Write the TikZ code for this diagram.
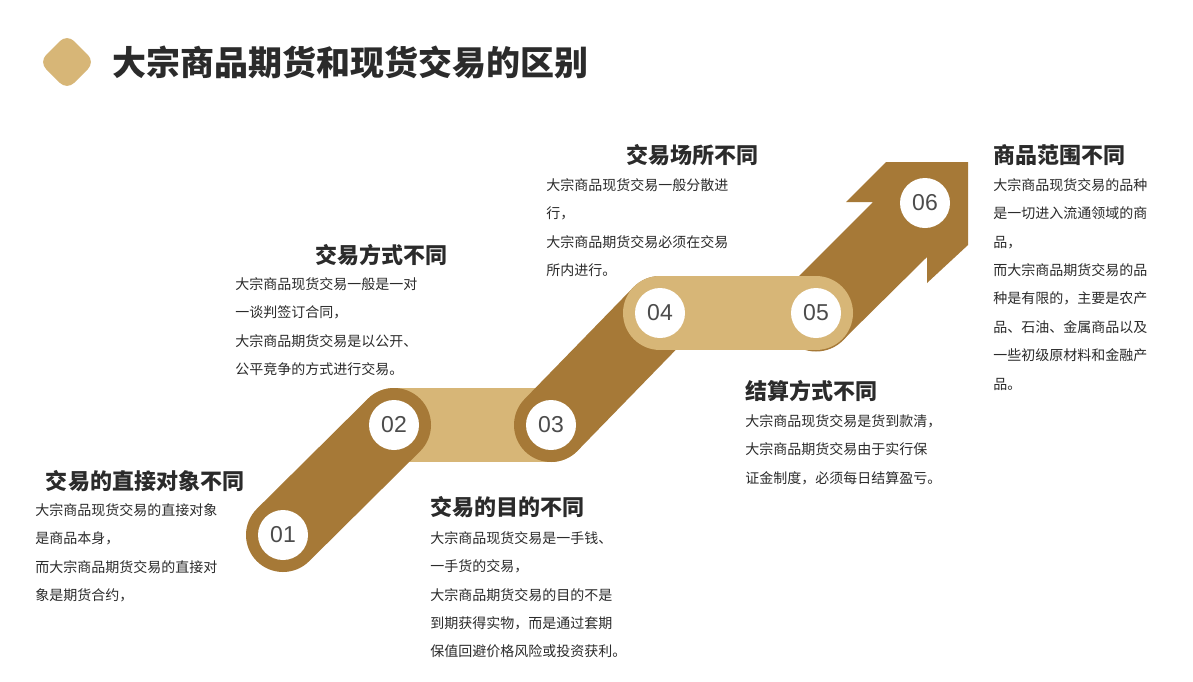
\documentclass[tikz,border=0pt]{standalone}
\usepackage{fontspec}
\setmainfont{Noto Sans CJK SC}
\newfontfamily\numfont{Liberation Sans}
\definecolor{dark}{HTML}{A67937}
\definecolor{tan}{HTML}{D7B677}
\definecolor{txt}{HTML}{2B2B2B}
\begin{document}
\begin{tikzpicture}[x=0.5pt,y=-0.5pt,
  band/.style={line width=37pt,line cap=round},
  num/.style={circle,fill=white,minimum size=25pt,inner sep=0,font=\numfont\fontsize{11.5}{12}\selectfont,text=black!70},
  head/.style={font=\bfseries\fontsize{11}{12}\selectfont,text=txt,inner sep=0},
  body/.style={font=\fontsize{7}{14.2}\selectfont,text=txt,align=left,anchor=north west,inner sep=0}]
\useasboundingbox[fill=white] (0,0) rectangle (1193,681);
% title
\fill[tan,rounded corners=5pt] (67,34) -- (95,62) -- (67,90) -- (39,62) -- cycle;
\node[font=\bfseries\fontsize{17}{20}\selectfont,text=txt,anchor=west,inner sep=0] (title) at (112,62) {大宗商品期货和现货交易的区别};
% bands
\coordinate (p1) at (283,535); \coordinate (p2) at (394,425);
\coordinate (p3) at (551,425); \coordinate (p4) at (660,313);
\coordinate (p5) at (816,313); \coordinate (p6) at (925,203);
\draw[band,tan] (p2) -- (p3);
\draw[band,dark] (p1) -- (p2);
\draw[band,dark] (p3) -- (p4);
\fill[dark] (p5) circle (38.5) ;
\fill[dark] (789,286) -- (873,202) -- (846,202) -- (886,162) -- (968,162) -- (968,245) -- (927,283) -- (927,257) -- (843,340) -- cycle;
\draw[band,tan] (p4) -- (p5);
% numbers
\node[num] (n1) at (p1) {01};
\node[num] (n2) at (p2) {02};
\node[num] (n3) at (p3) {03};
\node[num] (n4) at (p4) {04};
\node[num] (n5) at (p5) {05};
\node[num] (n6) at (p6) {06};
% texts
\node[head] (h1) at (145,481) {交易的直接对象不同};
\node[body] (b1) at (35,503) {大宗商品现货交易的直接对象\\是商品本身，\\而大宗商品期货交易的直接对\\象是期货合约，};
\node[head] (h2) at (381,255) {交易方式不同};
\node[body] (b2) at (235,277) {大宗商品现货交易一般是一对\\一谈判签订合同，\\大宗商品期货交易是以公开、\\公平竞争的方式进行交易。};
\node[head,anchor=west] (h3) at (430,507) {交易的目的不同};
\node[body] (b3) at (430,531) {大宗商品现货交易是一手钱、\\一手货的交易，\\大宗商品期货交易的目的不是\\到期获得实物，而是通过套期\\保值回避价格风险或投资获利。};
\node[head] (h4) at (692,155) {交易场所不同};
\node[body] (b4) at (546,178) {大宗商品现货交易一般分散进\\行，\\大宗商品期货交易必须在交易\\所内进行。};
\node[head,anchor=west] (h5) at (745,391) {结算方式不同};
\node[body] (b5) at (745,414) {大宗商品现货交易是货到款清，\\大宗商品期货交易由于实行保\\证金制度，必须每日结算盈亏。};
\node[head,anchor=west] (h6) at (993,155) {商品范围不同};
\node[body] (b6) at (993,178) {大宗商品现货交易的品种\\是一切进入流通领域的商\\品，\\而大宗商品期货交易的品\\种是有限的，主要是农产\\品、石油、金属商品以及\\一些初级原材料和金融产\\品。};
\end{tikzpicture}
\end{document}
